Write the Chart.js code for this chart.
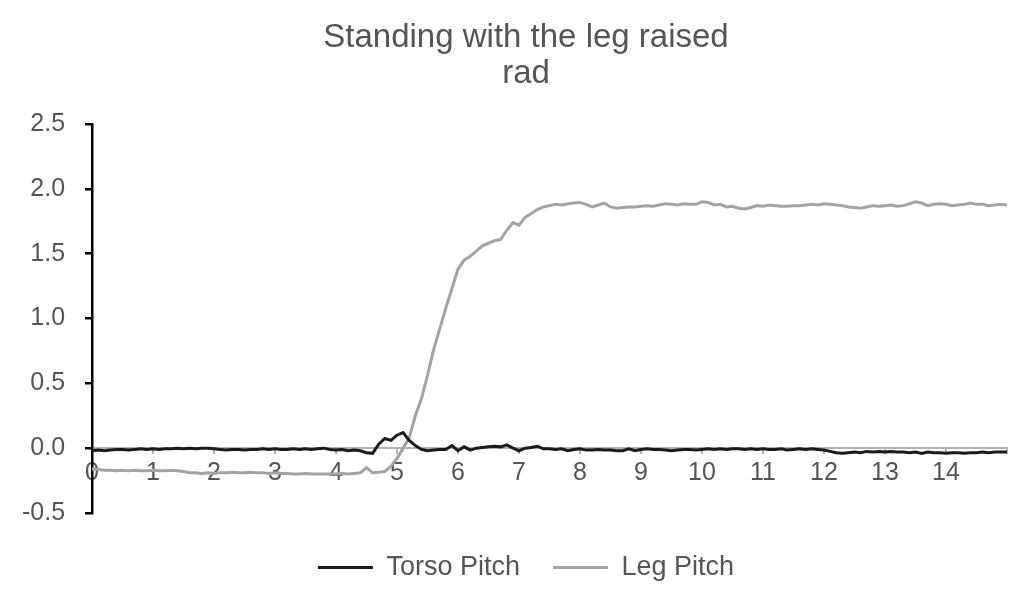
<!DOCTYPE html>
<html>
<head>
<meta charset="utf-8">
<script src="https://cdn.jsdelivr.net/npm/chart.js@4/dist/chart.umd.min.js"></script>
<style>
  html, body { margin:0; padding:0; background:#fff; }
  #wrap { width:1024px; height:600px; }
</style>
</head>
<body>
<div id="wrap"><canvas id="chart" width="1024" height="600"></canvas></div>
<script>
// Standing with the leg raised - pitch angles (rad) over time (s)
const titleLines = ['Standing with the leg raised', 'rad'];
const seriesNames = ['Torso Pitch', 'Leg Pitch'];

const time = [
  0.0,0.1,0.2,0.3,0.4,0.5,0.6,0.7,0.8,0.9,
  1.0,1.1,1.2,1.3,1.4,1.5,1.6,1.7,1.8,1.9,
  2.0,2.1,2.2,2.3,2.4,2.5,2.6,2.7,2.8,2.9,
  3.0,3.1,3.2,3.3,3.4,3.5,3.6,3.7,3.8,3.9,
  4.0,4.1,4.2,4.3,4.4,4.5,4.6,4.7,4.8,4.9,
  5.0,5.1,5.2,5.3,5.4,5.5,5.6,5.7,5.8,5.9,
  6.0,6.1,6.2,6.3,6.4,6.5,6.6,6.7,6.8,6.9,
  7.0,7.1,7.2,7.3,7.4,7.5,7.6,7.7,7.8,7.9,
  8.0,8.1,8.2,8.3,8.4,8.5,8.6,8.7,8.8,8.9,
  9.0,9.1,9.2,9.3,9.4,9.5,9.6,9.7,9.8,9.9,
  10.0,10.1,10.2,10.3,10.4,10.5,10.6,10.7,10.8,10.9,
  11.0,11.1,11.2,11.3,11.4,11.5,11.6,11.7,11.8,11.9,
  12.0,12.1,12.2,12.3,12.4,12.5,12.6,12.7,12.8,12.9,
  13.0,13.1,13.2,13.3,13.4,13.5,13.6,13.7,13.8,13.9,
  14.0,14.1,14.2,14.3,14.4,14.5,14.6,14.7,14.8,14.9,
  15.0
];

const torsoPitch = [
  -0.02,-0.015,-0.02,-0.015,-0.01,-0.01,-0.015,-0.01,-0.005,-0.01,
  -0.005,-0.01,-0.005,-0.005,0.0,-0.005,0.0,-0.005,0.0,0.0,
  -0.005,-0.01,-0.015,-0.01,-0.01,-0.015,-0.01,-0.01,-0.005,-0.01,
  -0.005,-0.01,-0.01,-0.005,-0.01,-0.005,-0.01,-0.005,0.0,-0.01,
  -0.015,-0.01,-0.02,-0.015,-0.02,-0.035,-0.04,0.03,0.075,0.06,
  0.1,0.12,0.06,0.02,-0.01,-0.02,-0.015,-0.01,-0.01,0.02,
  -0.02,0.01,-0.015,0.0,0.005,0.01,0.015,0.01,0.025,0.0,
  -0.02,0.0,0.005,0.015,-0.005,-0.005,-0.01,-0.005,-0.02,-0.01,
  -0.005,-0.015,-0.015,-0.01,-0.015,-0.015,-0.02,-0.02,-0.005,-0.02,
  -0.01,-0.005,-0.01,-0.01,-0.015,-0.02,-0.015,-0.01,-0.01,-0.015,
  -0.01,-0.005,-0.01,-0.005,-0.01,-0.005,-0.005,-0.01,-0.005,-0.01,
  -0.005,-0.01,-0.01,-0.005,-0.015,-0.01,-0.005,-0.01,-0.005,-0.01,
  -0.015,-0.025,-0.035,-0.04,-0.035,-0.03,-0.035,-0.025,-0.03,-0.025,
  -0.03,-0.025,-0.03,-0.03,-0.035,-0.03,-0.04,-0.03,-0.035,-0.035,
  -0.04,-0.035,-0.035,-0.04,-0.035,-0.035,-0.03,-0.035,-0.03,-0.03,
  -0.03
];

const legPitch = [
  -0.16,-0.165,-0.17,-0.17,-0.175,-0.17,-0.175,-0.17,-0.175,-0.175,
  -0.17,-0.175,-0.175,-0.17,-0.175,-0.18,-0.19,-0.19,-0.195,-0.19,
  -0.195,-0.19,-0.19,-0.185,-0.19,-0.19,-0.185,-0.19,-0.19,-0.195,
  -0.19,-0.195,-0.195,-0.2,-0.2,-0.195,-0.2,-0.2,-0.2,-0.2,
  -0.2,-0.195,-0.2,-0.195,-0.19,-0.15,-0.19,-0.185,-0.18,-0.14,
  -0.08,0.0,0.08,0.25,0.38,0.56,0.76,0.92,1.08,1.23,
  1.38,1.45,1.48,1.52,1.56,1.58,1.60,1.61,1.68,1.74,
  1.72,1.78,1.81,1.84,1.86,1.87,1.88,1.875,1.885,1.89,
  1.895,1.88,1.86,1.875,1.89,1.86,1.85,1.855,1.86,1.86,
  1.865,1.87,1.865,1.875,1.885,1.88,1.875,1.885,1.88,1.88,
  1.9,1.895,1.875,1.88,1.86,1.865,1.85,1.845,1.855,1.87,
  1.865,1.875,1.87,1.865,1.865,1.87,1.87,1.875,1.88,1.875,
  1.885,1.88,1.875,1.87,1.86,1.855,1.85,1.86,1.87,1.865,
  1.87,1.875,1.865,1.87,1.885,1.9,1.89,1.87,1.88,1.885,
  1.88,1.87,1.875,1.88,1.89,1.88,1.88,1.87,1.875,1.88,
  1.875
];

const textColor = '#555555';
const fontFamily = "'Liberation Sans', Arial, sans-serif";

const toXY = vals => vals.map((v, i) => ({x: time[i], y: v}));

new Chart(document.getElementById('chart'), {
  type: 'line',
  data: {
    datasets: [
      {label: seriesNames[0], data: toXY(torsoPitch), borderColor:'#1a1a1a', backgroundColor:'#1a1a1a', borderWidth:3, pointRadius:0, tension:0},
      {label: seriesNames[1], data: toXY(legPitch), borderColor:'#a3a3a3', backgroundColor:'#a3a3a3', borderWidth:3, pointRadius:0, tension:0}
    ]
  },
  options: {
    responsive: false,
    animation: false,
    layout: { padding: {left:45, right:17, top:0, bottom:9} },
    scales: {
      x: {
        type: 'linear',
        position: {y: 0},
        min: 0, max: 15,
        border: { color:'#b3b3b3', width:2 },
        grid: { drawOnChartArea:false, drawTicks:true, tickLength:5, color:'#b3b3b3', lineWidth:2 },
        ticks: {
          stepSize: 1, padding: 5, color: textColor, maxRotation: 0, autoSkip: false,
          font: {family: fontFamily, size: 25},
          callback: v => v < 15 ? String(v) : ''
        }
      },
      y: {
        min: -0.5, max: 2.5,
        border: { color:'#000', width:2.5 },
        grid: { drawOnChartArea:false, drawTicks:true, tickLength:7, color:'#000', lineWidth:2.5 },
        ticks: {
          // mirrored + far-aligned so labels sit left of the axis without being clipped
          mirror: true, crossAlign: 'far', padding: -70,
          stepSize: 0.5, color: textColor,
          font: {family: fontFamily, size: 25},
          callback: v => Number(v).toFixed(1)
        },
        afterFit: s => { s.width = 47; }
      }
    },
    plugins: {
      title: {
        display: true,
        text: titleLines,
        color: textColor,
        font: {family: fontFamily, size: 33, weight: 'normal', lineHeight: 1.09},
        padding: {top: 20, bottom: 32}
      },
      legend: {
        position: 'bottom',
        title: { display: true, text: '', font: {size: 8, lineHeight: 1}, padding: 0 },
        labels: {
          usePointStyle: true, pointStyle: 'line', pointStyleWidth: 55,
          padding: 33, color: textColor,
          font: {family: fontFamily, size: 27}
        }
      },
      tooltip: { enabled: false }
    }
  }
});
</script>
</body>
</html>
